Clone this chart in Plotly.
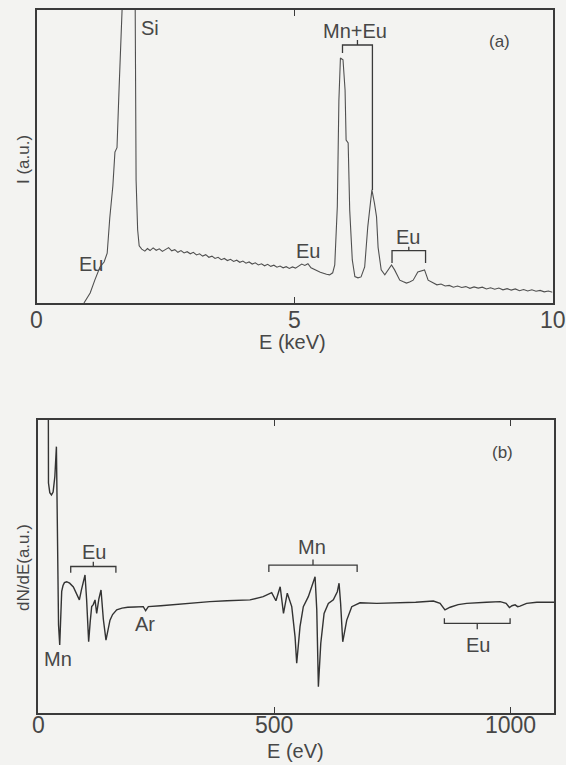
import plotly.graph_objects as go

# ---------------- Panel (a): EDX spectrum ----------------
E_a = [0.92, 0.98, 1.04, 1.13, 1.23, 1.31, 1.37, 1.42, 1.48, 1.52, 1.56, 1.60, 1.64, 1.68,
       1.74, 1.91, 1.93, 1.96, 1.99,
       2.04, 2.10, 2.15, 2.20, 2.26, 2.32, 2.38, 2.44, 2.50, 2.56, 2.62, 2.68, 2.74, 2.80,
       2.86, 2.92, 2.98, 3.04, 3.10, 3.16, 3.22, 3.28, 3.34, 3.40, 3.46, 3.52, 3.58, 3.64,
       3.70, 3.76, 3.82, 3.88, 3.94, 4.00, 4.06, 4.12, 4.18, 4.24, 4.30, 4.36, 4.42, 4.48,
       4.54, 4.60, 4.66, 4.72, 4.78, 4.84, 4.90, 4.96, 5.02, 5.08, 5.14, 5.20, 5.26, 5.32,
       5.38, 5.44, 5.50, 5.56, 5.62, 5.68, 5.74,
       5.78, 5.83, 5.86, 5.89, 5.94, 5.98, 6.00, 6.04, 6.07, 6.12, 6.17, 6.23, 6.29, 6.36,
       6.42, 6.47, 6.50, 6.55, 6.59, 6.62, 6.68, 6.75, 6.81, 6.88, 6.94, 7.04, 7.10, 7.17,
       7.23, 7.30, 7.39, 7.45, 7.52, 7.59, 7.68, 7.76, 7.84, 7.92, 8.00, 8.08, 8.16, 8.24,
       8.32, 8.40, 8.48, 8.56, 8.64, 8.72, 8.80, 8.88, 8.96, 9.04, 9.12, 9.20, 9.28, 9.36,
       9.44, 9.52, 9.60, 9.68, 9.76, 9.84, 9.92, 10.0]
I_a = [0.0, 1.5, 3.4, 7.8, 12.3, 14.0, 17.0, 29.0, 40.0, 51.5, 53.0, 73.0, 93.0, 110.0,
       400.0, 110.0, 42.0, 25.0, 19.5,
       18.4, 17.7, 18.6, 17.9, 18.8, 18.0, 18.5, 17.6, 18.3, 18.9, 17.8, 18.2, 17.3, 17.9,
       17.1, 17.5, 16.8, 17.3, 16.4, 16.8, 16.0, 16.5, 15.6, 16.0, 15.2, 15.6, 14.8, 15.2,
       14.5, 14.9, 14.2, 14.6, 13.9, 14.3, 13.6, 14.0, 13.3, 13.7, 13.0, 13.4, 12.7, 13.2,
       12.5, 12.9, 12.2, 12.6, 12.0, 12.4, 11.8, 12.3, 11.9, 12.6, 13.3, 12.8, 13.4, 12.0,
       11.4, 11.0, 10.5, 10.1, 9.8, 9.6, 10.3,
       13.0, 33.0, 69.0, 83.6, 83.0, 72.7, 55.6, 54.6, 31.7, 14.7, 9.0, 8.6, 8.9, 12.3,
       26.0, 35.0, 38.6, 34.0, 29.4, 19.0, 11.3, 9.6, 11.3, 13.0, 11.3, 7.8, 7.3, 6.8,
       7.2, 7.8, 10.6, 11.0, 11.3, 7.8, 6.8, 6.2, 6.5, 5.8, 6.0, 5.4, 5.8, 5.3,
       5.6, 5.0, 5.5, 5.1, 5.4, 4.8, 5.2, 4.7, 5.1, 4.5, 4.9, 4.4, 4.8, 4.2,
       4.6, 4.1, 4.5, 4.0, 4.3, 3.8, 4.1, 3.7]

# ---------------- Panel (b): AES derivative spectrum ----------------
E_b = [21.9, 22.2, 25.0, 28.5, 32.0, 35.7, 39.0, 41.0, 43.5, 46.0, 49.0, 50.2, 53.0, 56.0,
       60.7, 67.0, 74.9, 81.0, 87.6, 92.0, 95.5, 99.6, 103.0, 107.3, 110.5, 113.7, 117.0,
       120.8, 124.3, 129.0, 133.5, 138.4, 144.0, 148.0, 152.5, 158.0, 166.7, 178.0, 190.0,
       205.0, 223.0, 228.0, 233.7, 260.0, 300.0, 330.0, 364.0, 400.0, 430.0, 449.0, 477.0,
       495.0, 504.0, 513.0, 520.0, 528.0, 537.5, 544.5, 548.0, 555.0, 562.0, 572.6, 586.9,
       590.5, 593.9, 599.0, 606.0, 615.0, 625.6, 634.0, 637.7, 641.0, 645.5, 654.0, 664.6,
       682.0, 717.6, 767.0, 800.0, 837.5, 851.7, 862.0, 873.0, 890.0, 908.0, 950.0, 979.0,
       991.5, 998.6, 1004.0, 1010.6, 1016.0, 1021.0, 1035.0, 1056.5, 1093.0]
D_b = [104.0, 78.5, 75.2, 74.4, 75.4, 80.7, 90.9, 70.0, 30.0, 23.2, 38.0, 41.5, 43.5, 44.5,
       44.8, 44.3, 43.0, 41.0, 38.6, 42.0, 44.5, 47.1, 38.6, 24.3, 31.0, 36.3, 37.0,
       38.6, 34.0, 39.0, 42.0, 32.0, 24.9, 28.5, 31.7, 33.6, 35.2, 35.8, 36.1,
       36.2, 36.3, 34.9, 36.3, 36.6, 37.2, 37.6, 38.0, 38.3, 38.5, 38.6, 39.7,
       41.1, 38.3, 43.1, 34.0, 40.9, 36.3, 26.0, 17.0, 29.5, 36.3, 39.7, 46.5,
       35.2, 9.0, 23.8, 34.0, 37.4, 38.6, 41.4, 44.3, 37.4, 24.3, 31.7, 36.3,
       37.6, 37.4, 37.6, 37.8, 38.2, 37.4, 35.2, 36.1, 37.0, 37.4, 37.8, 38.0,
       37.4, 36.0, 36.6, 36.9, 36.3, 36.5, 37.4, 37.8, 37.8]

# ---------------- tick labels ----------------
ticks_a = [0, 5, 10]
tick_text_a = ["0", "5", "10"]
ticks_b = [0, 500, 1000]
tick_text_b = ["0", "500", "1000"]

# ---------------- peak labels: (text, x, y) ----------------
labels_a = [("Si", 2.20, 93.9), ("Eu", 1.06, 13.3), ("Eu", 5.26, 17.7),
            ("Mn+Eu", 6.17, 92.8), ("Eu", 7.20, 22.5)]
labels_b = [("Eu", 118.6, 55.1), ("Mn", 41.3, 18.3), ("Ar", 225.6, 30.5),
            ("Mn", 580.0, 56.8), ("Eu", 932.0, 23.2)]

# brackets: (x_left, x_right, y_bar, y_left_leg_end, y_right_leg_end, y_center_tick_end)
brackets_a = [(5.93, 6.51, 88.05, 85.3, 38.6, 89.8),
              (6.89, 7.54, 17.85, 13.65, 13.65, 19.2)]
brackets_b = [(69.3, 165.0, 50.0, 47.9, 47.9, 51.6),
              (489.0, 676.0, 50.5, 48.1, 48.1, 52.4),
              (860.8, 1000.0, 30.6, 32.3, 32.3, 28.6)]

W, H = 566, 765
INK = "#3a3a3a"
TXT = "#474747"
BG = "#f3f3f1"
FONT = "Liberation Sans, Arial, sans-serif"

fig = go.Figure()
fig.add_trace(go.Scatter(x=E_a, y=I_a, mode="lines", xaxis="x", yaxis="y",
                         line=dict(color="#505050", width=1.1), showlegend=False))
fig.add_trace(go.Scatter(x=E_b, y=D_b, mode="lines", xaxis="x2", yaxis="y2",
                         line=dict(color="#333333", width=1.4), showlegend=False))

shapes = []
def add_brackets(brs, xr, yr):
    for (x0, x1, yb, yl, yrr, yc) in brs:
        xc = (x0 + x1) / 2
        path = f"M {x0},{yl} L {x0},{yb} L {x1},{yb} L {x1},{yrr}"
        shapes.append(dict(type="path", path=path, xref=xr, yref=yr,
                           line=dict(color=INK, width=1.3)))
        shapes.append(dict(type="line", x0=xc, x1=xc, y0=yb, y1=yc, xref=xr, yref=yr,
                           line=dict(color=INK, width=1.3)))
add_brackets(brackets_a, "x", "y")
add_brackets(brackets_b, "x2", "y2")

ann = []
def txt(text, x, y, xref, yref, size, angle=0):
    ann.append(dict(text=text, x=x, y=y, xref=xref, yref=yref, showarrow=False,
                    xanchor="center", yanchor="middle", textangle=angle,
                    font=dict(size=size, color=TXT, family=FONT)))

for t, x, y in labels_a:
    txt(t, x, y, "x", "y", 20)
for t, x, y in labels_b:
    txt(t, x, y, "x2", "y2", 20)

# tick labels placed below each axis
for v, t in zip(ticks_a, tick_text_a):
    txt(t, v, 1 - 320 / H, "x", "paper", 23)
for v, t in zip(ticks_b, tick_text_b):
    txt(t, v, 1 - 725 / H, "x2", "paper", 23)

txt("(a)", 500 / W, 1 - 41 / H, "paper", "paper", 17)
txt("(b)", 502 / W, 1 - 452 / H, "paper", "paper", 17)
txt("I (a.u.)", 23 / W, 1 - 160 / H, "paper", "paper", 17, -90)
txt("dN/dE(a.u.)", 23 / W, 1 - 568 / H, "paper", "paper", 17, -90)
txt("E (keV)", 292 / W, 1 - 342 / H, "paper", "paper", 20)
txt("E (eV)", 295 / W, 1 - 751 / H, "paper", "paper", 20)

axis_common = dict(showline=True, mirror="ticks", linecolor=INK, linewidth=1.5,
                   showgrid=False, zeroline=False, ticks="inside", ticklen=6,
                   tickwidth=1.3, tickcolor=INK, showticklabels=False)

fig.update_layout(
    width=W, height=H, margin=dict(l=0, r=0, t=0, b=0),
    paper_bgcolor=BG, plot_bgcolor=BG,
    xaxis=dict(domain=[36.5 / W, 552.5 / W], range=[0, 10], anchor="y",
               tickvals=ticks_a, **axis_common),
    yaxis=dict(domain=[1 - 303 / H, 1 - 10 / H], range=[0, 100], anchor="x",
               showticklabels=False, showline=True, mirror=True, linecolor=INK,
               linewidth=1.5, showgrid=False, zeroline=False, ticks=""),
    xaxis2=dict(domain=[38 / W, 554 / W], range=[0, 1093], anchor="y2",
                tickvals=ticks_b, **axis_common),
    yaxis2=dict(domain=[1 - 713 / H, 1 - 420 / H], range=[0, 100], anchor="x2",
                showticklabels=False, showline=True, mirror=True, linecolor=INK,
                linewidth=1.5, showgrid=False, zeroline=False, ticks=""),
    shapes=shapes, annotations=ann,
)

fig.write_html("out.html")
